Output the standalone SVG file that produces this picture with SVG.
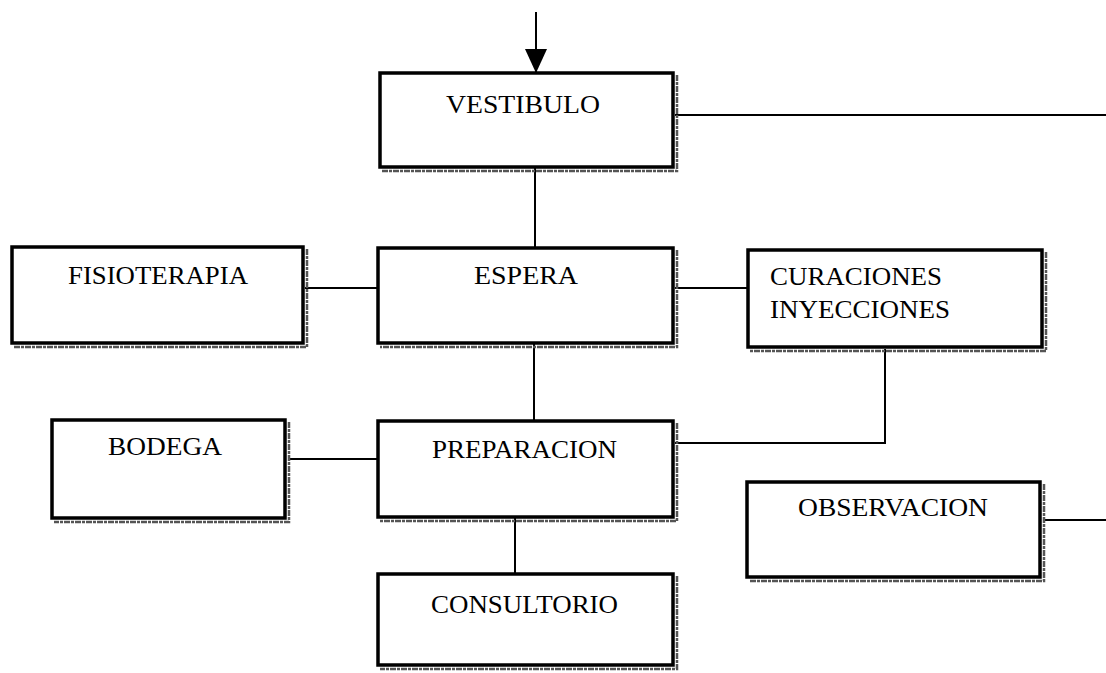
<svg xmlns="http://www.w3.org/2000/svg" width="1106" height="673" viewBox="0 0 1106 673">
<defs>
<style>
.box{fill:#fff;stroke:#000;stroke-width:3.5}
.sh{fill:none;stroke:#555;stroke-width:2.5;stroke-dasharray:6 1 3 1}
.lbl{font-family:"Liberation Serif","Times New Roman",serif;font-size:26px;fill:#000}
.con{fill:none;stroke:#000;stroke-width:2}
</style>
<marker id="arr" viewBox="0 0 24 22" refX="24" refY="11" markerWidth="24" markerHeight="22" markerUnits="userSpaceOnUse" orient="auto">
<path d="M0,0 L24,11 L0,22 Z" fill="#000"/>
</marker>
</defs>
<rect width="1106" height="673" fill="#fff"/>
<g id="connectors">
<line class="con" x1="536" y1="12" x2="536" y2="73" marker-end="url(#arr)"/>
<line class="con" x1="675" y1="115" x2="1106" y2="115"/>
<line class="con" x1="535" y1="167" x2="535" y2="248"/>
<line class="con" x1="305" y1="288" x2="378" y2="288"/>
<line class="con" x1="675" y1="288" x2="748" y2="288"/>
<line class="con" x1="534" y1="343" x2="534" y2="421"/>
<polyline class="con" points="885,349 885,443 675,443"/>
<line class="con" x1="288" y1="459" x2="378" y2="459"/>
<line class="con" x1="515" y1="517" x2="515" y2="574"/>
<line class="con" x1="1043" y1="520" x2="1106" y2="520"/>
</g>
<g id="vestibulo">
<polyline class="sh" points="677,75 677,171 382,171"/>
<rect class="box" x="380" y="73" width="293" height="94"/>
<text class="lbl" x="446" y="113" textLength="154" lengthAdjust="spacingAndGlyphs">VESTIBULO</text>
</g>
<g id="fisioterapia">
<polyline class="sh" points="307,249 307,347 14,347"/>
<rect class="box" x="12" y="247" width="291" height="96"/>
<text class="lbl" x="68" y="284" textLength="180" lengthAdjust="spacingAndGlyphs">FISIOTERAPIA</text>
</g>
<g id="espera">
<polyline class="sh" points="677,250 677,347 380,347"/>
<rect class="box" x="378" y="248" width="295" height="95"/>
<text class="lbl" x="474" y="284" textLength="104" lengthAdjust="spacingAndGlyphs">ESPERA</text>
</g>
<g id="curaciones">
<polyline class="sh" points="1046,252 1046,351 750,351"/>
<rect class="box" x="748" y="250" width="294" height="97"/>
<text class="lbl" x="770" y="285" textLength="172" lengthAdjust="spacingAndGlyphs">CURACIONES</text>
<text class="lbl" x="770" y="318" textLength="180" lengthAdjust="spacingAndGlyphs">INYECCIONES</text>
</g>
<g id="bodega">
<polyline class="sh" points="289,422 289,522 54,522"/>
<rect class="box" x="52" y="420" width="233" height="98"/>
<text class="lbl" x="108" y="455" textLength="114" lengthAdjust="spacingAndGlyphs">BODEGA</text>
</g>
<g id="preparacion">
<polyline class="sh" points="677,423 677,521 380,521"/>
<rect class="box" x="378" y="421" width="295" height="96"/>
<text class="lbl" x="432" y="458" textLength="185" lengthAdjust="spacingAndGlyphs">PREPARACION</text>
</g>
<g id="observacion">
<polyline class="sh" points="1044,484 1044,581 749,581"/>
<rect class="box" x="747" y="482" width="293" height="95"/>
<text class="lbl" x="798" y="516" textLength="190" lengthAdjust="spacingAndGlyphs">OBSERVACION</text>
</g>
<g id="consultorio">
<polyline class="sh" points="677,576 677,669 380,669"/>
<rect class="box" x="378" y="574" width="295" height="91"/>
<text class="lbl" x="431" y="613" textLength="187" lengthAdjust="spacingAndGlyphs">CONSULTORIO</text>
</g>
</svg>
